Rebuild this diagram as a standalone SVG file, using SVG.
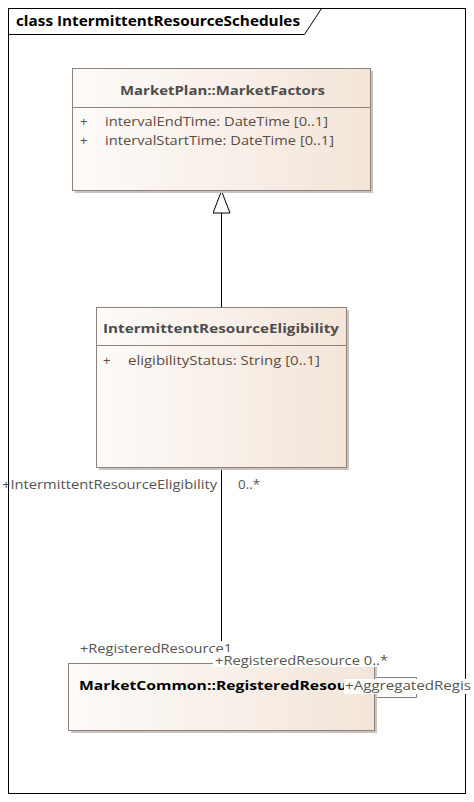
<svg xmlns="http://www.w3.org/2000/svg" width="474" height="802" viewBox="0 0 474 802">
<defs>
<linearGradient id="cls" x1="0" y1="0" x2="1" y2="0">
<stop offset="0" stop-color="#fdfbf9"/>
<stop offset="1" stop-color="#f3e5d9"/>
</linearGradient>
<marker id="gen" markerWidth="24" markerHeight="18" refX="23" refY="9" orient="auto" markerUnits="userSpaceOnUse" viewBox="0 0 24 18">
<path d="M23 9 L1 0.5 L1 17.5 Z" fill="#ffffff" stroke="#000" stroke-width="1"/>
</marker>
</defs>
<style>
text{font-family:"Open Sans","Noto Sans","DejaVu Sans",sans-serif;}
.box{fill:url(#cls);stroke:#8f807a;stroke-width:1;}
.shadow{fill:#c8c4c2;}
.div{stroke:#8f807a;stroke-width:1;}
.ttl{font-size:13px;font-weight:bold;fill:#4d4d4d;}
.attr{font-size:13px;fill:#5e4b43;}
.lbl{font-size:13px;fill:#555555;}
.conn{stroke:#000;stroke-width:1;fill:none;}
.self{stroke:#7f7f7f;stroke-width:1;fill:none;}
</style>
<rect x="0" y="0" width="474" height="802" fill="#ffffff"/>
<g id="frame">
<rect x="8.5" y="8.5" width="457" height="785" fill="none" stroke="#000" stroke-width="1"/>
<path d="M8.5 34.5 H304.5 L321.5 8.5" fill="none" stroke="#000" stroke-width="1"/>
<text x="16" y="26" font-size="14" font-weight="bold" fill="#000" textLength="284" lengthAdjust="spacingAndGlyphs">class IntermittentResourceSchedules</text>
</g>
<g id="connectors">
<line class="conn" x1="221.5" y1="307" x2="221.5" y2="191" marker-end="url(#gen)"/>
<line class="conn" x1="221.5" y1="467" x2="221.5" y2="641"/>
<path class="self" d="M375 677.5 H416.5 V697.5 H375"/>
</g>
<g id="MarketFactors">
<rect class="shadow" x="75" y="71" width="298" height="122"/>
<rect class="box" x="72.5" y="68.5" width="298" height="122"/>
<line class="div" x1="72.5" y1="107.5" x2="370.5" y2="107.5"/>
<text class="ttl" x="120" y="95" textLength="205" lengthAdjust="spacingAndGlyphs">MarketPlan::MarketFactors</text>
<text class="attr" x="80" y="126">+</text>
<text class="attr" x="105" y="126" textLength="223" lengthAdjust="spacingAndGlyphs">intervalEndTime: DateTime [0..1]</text>
<text class="attr" x="80" y="145">+</text>
<text class="attr" x="105" y="145" textLength="229" lengthAdjust="spacingAndGlyphs">intervalStartTime: DateTime [0..1]</text>
</g>
<g id="IntermittentResourceEligibility">
<rect class="shadow" x="99" y="310" width="250" height="160"/>
<rect class="box" x="96.5" y="307.5" width="250" height="160"/>
<line class="div" x1="96.5" y1="345.5" x2="346.5" y2="345.5"/>
<text class="ttl" x="103" y="333" textLength="236" lengthAdjust="spacingAndGlyphs">IntermittentResourceEligibility</text>
<text class="attr" x="103" y="365">+</text>
<text class="attr" x="128" y="365" textLength="192" lengthAdjust="spacingAndGlyphs">eligibilityStatus: String [0..1]</text>
</g>
<g id="RegisteredResource">
<rect class="shadow" x="71" y="666" width="306" height="67"/>
<rect class="box" x="68.5" y="663.5" width="306" height="67"/>
<text x="79" y="690" font-size="13" font-weight="bold" fill="#000" textLength="268" lengthAdjust="spacingAndGlyphs">MarketCommon::RegisteredResou</text>
</g>
<g id="labels">
<text class="lbl" x="2" y="489" textLength="215" lengthAdjust="spacingAndGlyphs">+IntermittentResourceEligibility</text>
<text class="lbl" x="238" y="489" textLength="22" lengthAdjust="spacingAndGlyphs">0..*</text>
<text class="lbl" x="80" y="653" textLength="152" lengthAdjust="spacingAndGlyphs">+RegisteredResource1</text>
<rect x="213" y="652" width="177" height="15" fill="#ffffff"/>
<text class="lbl" x="215" y="665" textLength="173" lengthAdjust="spacingAndGlyphs">+RegisteredResource 0..*</text>
<rect x="344" y="679" width="130" height="15" fill="#ffffff"/>
<text class="lbl" x="345" y="690" textLength="126" lengthAdjust="spacingAndGlyphs">+AggregatedRegis</text>
</g>
</svg>
